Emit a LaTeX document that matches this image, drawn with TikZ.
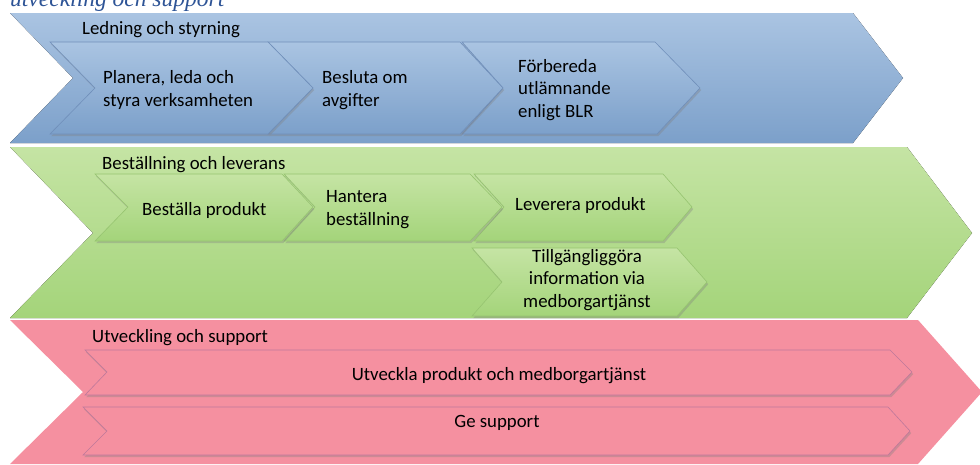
\documentclass[tikz,border=0pt]{standalone}
\usepackage{fontspec}
\setmainfont{Carlito}
\newfontfamily\rubrikfont{Liberation Serif}
\usetikzlibrary{shadows}

\definecolor{rubrikblue}{RGB}{46,84,150}
\definecolor{blueTop}{RGB}{170,196,226}
\definecolor{blueBot}{RGB}{124,160,202}
\definecolor{blueEdge}{RGB}{112,143,186}
\definecolor{greenTop}{RGB}{197,228,164}
\definecolor{greenBot}{RGB}{164,212,122}
\definecolor{greenEdge}{RGB}{150,196,112}
\definecolor{redFill}{RGB}{245,144,160}
\definecolor{redEdge}{RGB}{190,120,155}

\begin{document}
\begin{tikzpicture}[x=1pt,y=-1pt,
    chev/.style={draw=#1, line width=.6pt,
      drop shadow={shadow xshift=1.2pt,shadow yshift=-2.2pt,opacity=.35}},
    lbl/.style={anchor=base west, inner sep=0pt, align=left,
      font=\fontsize{18.8}{22.5}\selectfont}]

    \useasboundingbox (0,0) rectangle (980,464);

    % Rubrik (avskuren i overkanten)
    \node[anchor=base west, inner sep=0pt, text=rubrikblue,
      font=\rubrikfont\itshape\fontsize{23.5}{28}\selectfont] (rubrik) at (10,6) {utveckling och support};

    % Ledning och styrning
    \fill[top color=blueTop, bottom color=blueBot] (10,13) -- (853,13) -- (903,78) -- (853,143) -- (10,143) -- (73,78) -- cycle;
    \draw[chev=blueEdge, top color=blueTop, bottom color=blueBot] (462,42) -- (655,42) -- (700,88) -- (657,134) -- (462,134) -- (503,88) -- cycle;
    \draw[chev=blueEdge, top color=blueTop, bottom color=blueBot] (268,42) -- (460,42) -- (503,88) -- (460,134) -- (268,134) -- (313,88) -- cycle;
    \draw[chev=blueEdge, top color=blueTop, bottom color=blueBot] (50,42) -- (268,42) -- (313,88) -- (268,134) -- (50,134) -- (95,88) -- cycle;
    % (base = baseline of the last line)
    \node[lbl] (ledning) at (82,34) {Ledning och styrning};
    \node[lbl] (planera) at (103,106) {Planera, leda och\\styra verksamheten};
    \node[lbl] (besluta) at (322,106) {Besluta om\\avgifter};
    \node[lbl] (forbereda) at (518,117) {Förbereda\\utlämnande\\enligt BLR};

    % Beställning och leverans
    \fill[top color=greenTop, bottom color=greenBot] (10,147) -- (907,147) -- (972,233) -- (907,318) -- (10,318) -- (93,233) -- cycle;
    \draw[chev=greenEdge, top color=greenTop, bottom color=greenBot] (472,248) -- (677,248) -- (707,282) -- (677,316) -- (472,316) -- (502,282) -- cycle;
    \draw[chev=greenEdge, top color=greenTop, bottom color=greenBot] (474,174) -- (663,174) -- (692,207) -- (663,241) -- (474,241) -- (504,207) -- cycle;
    \draw[chev=greenEdge, top color=greenTop, bottom color=greenBot] (284,174) -- (470,174) -- (502,207) -- (470,241) -- (284,241) -- (315,207) -- cycle;
    \draw[chev=greenEdge, top color=greenTop, bottom color=greenBot] (95,174) -- (282,174) -- (313,207) -- (282,241) -- (95,241) -- (128,207) -- cycle;
    \node[lbl] (bestallning) at (102,169) {Beställning och leverans};
    \node[lbl] (bestalla) at (142,215) {Beställa produkt};
    \node[lbl] (hantera) at (326,225) {Hantera\\beställning};
    \node[lbl] (leverera) at (515,210) {Leverera produkt};
    \node[lbl, anchor=base, align=center] (tillganglig) at (587,307) {Tillgängliggöra\\information via\\medborgartjänst};

    % Utveckling och support
    \fill[redFill] (10,320) -- (918,320) -- (982,392) -- (918,464) -- (10,464) -- (83,392) -- cycle;
    \draw[chev=redEdge, fill=redFill] (85,350) -- (890,350) -- (912,372) -- (890,395) -- (85,395) -- (107,372) -- cycle;
    \draw[chev=redEdge, fill=redFill] (83,407) -- (888,407) -- (910,431) -- (888,455) -- (83,455) -- (107,431) -- cycle;
    \node[lbl] (utveckling) at (92,342) {Utveckling och support};
    \node[lbl, anchor=base] (utveckla) at (499,380) {Utveckla produkt och medborgartjänst};
    \node[lbl, anchor=base] (support) at (497,427) {Ge support};

\end{tikzpicture}
\end{document}
